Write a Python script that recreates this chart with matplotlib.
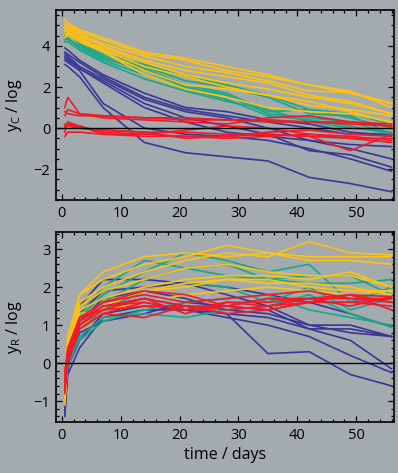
import matplotlib
matplotlib.use("Agg")
import matplotlib.pyplot as plt
from matplotlib.ticker import MultipleLocator

plt.rcParams['font.family'] = ['Open Sans', 'DejaVu Sans']

days = [0.5, 1, 3, 7, 14, 21, 28, 35, 42, 49, 56]

# top panel: y_C
yc_blue = [
    [3.9, 3.8, 3.3, 2.6, 1.7, 1.0, 0.8, 0.4, 0.2, -0.2, -0.35],
    [3.7, 3.6, 3.2, 2.5, 1.5, 0.9, 0.6, 0.3, 0.0, -0.3, -0.3],
    [3.6, 3.5, 3.0, 2.4, 1.4, 0.8, 0.5, 0.0, -0.6, -1.0, -1.5],
    [3.4, 3.3, 2.9, 2.3, 1.2, 0.5, 0.1, -0.3, -1.1, -1.3, -1.9],
    [3.3, 3.2, 2.8, 1.2, 0.0, -0.3, -0.4, -0.6, -1.0, -1.5, -2.1],
    [3.1, 3.0, 2.5, 1.0, -0.7, -1.2, -1.4, -1.6, -2.4, -2.7, -3.1],
    [3.5, 3.4, 2.9, 2.2, 1.0, 0.3, -0.2, -0.4, -0.6, -0.8, -0.9],
]
yc_teal = [
    [4.7, 4.6, 4.3, 3.6, 3.1, 2.5, 2.1, 1.6, 0.9, 0.5, 0.0],
    [4.6, 4.5, 4.2, 3.5, 3.0, 2.3, 2.0, 1.5, 0.7, 0.6, -0.3],
    [4.5, 4.6, 4.1, 3.4, 2.9, 2.1, 1.7, 0.8, 0.9, 0.7, 0.2],
    [4.4, 4.3, 4.0, 3.4, 2.8, 2.0, 1.6, 0.7, 0.5, 0.3, -0.3],
    [4.3, 4.4, 3.9, 3.3, 2.6, 1.9, 1.4, 0.6, 0.4, 0.1, -0.3],
    [4.2, 4.2, 3.8, 3.2, 2.4, 1.8, 1.3, 0.9, 0.3, 0.0, -0.2],
]
yc_yellow = [
    [5.3, 5.1, 4.8, 4.4, 3.7, 3.4, 3.0, 2.6, 2.1, 1.7, 1.2],
    [5.1, 5.0, 4.7, 4.3, 3.6, 3.3, 2.8, 2.5, 2.1, 1.8, 1.0],
    [5.0, 4.9, 4.6, 4.1, 3.5, 3.0, 2.7, 2.3, 1.8, 1.75, 1.2],
    [4.9, 4.8, 4.5, 4.0, 3.3, 2.8, 2.5, 2.2, 1.6, 1.3, 0.7],
    [4.8, 4.6, 4.4, 3.8, 3.0, 2.5, 2.0, 1.6, 1.1, 0.9, 0.6],
    [4.7, 4.7, 4.3, 3.7, 2.6, 1.9, 1.5, 1.0, 0.8, 0.7, 0.3],
    [4.6, 4.5, 4.2, 3.7, 2.8, 2.1, 1.9, 1.6, 1.3, 0.8, 0.25],
    [4.4, 4.6, 4.3, 3.9, 3.2, 2.6, 2.2, 1.9, 1.5, 1.2, 0.7],
]
yc_red = [
    [1.0, 1.5, 0.7, 0.6, 0.5, 0.5, 0.4, 0.4, 0.3, 0.3, 0.2],
    [0.8, 0.7, 0.6, 0.6, 0.5, 0.4, 0.4, 0.3, 0.3, 0.2, 0.1],
    [0.6, 0.9, 0.7, 0.5, 0.4, 0.3, 0.2, 0.5, 0.6, 0.3, 0.1],
    [0.2, 0.1, 0.0, -0.1, -0.2, -0.2, -0.3, -0.3, -0.4, -1.1, -0.3],
    [-0.4, -0.2, -0.2, -0.3, -0.3, -0.4, -0.4, -0.3, -0.4, -0.5, -0.7],
    [0.0, 0.2, 0.1, -0.2, -0.3, -0.1, 0.1, 0.0, -0.3, -0.5, -0.5],
    [-0.2, 0.3, 0.1, -0.3, -0.4, -0.4, -0.5, -0.4, -0.3, -0.4, -0.6],
    [0.1, 0.2, 0.0, -0.1, -0.2, -0.5, -0.4, -0.2, -0.1, -0.3, -0.4],
]

# bottom panel: y_R
yr_blue = [
    [-1.3, 0.0, 1.5, 2.2, 2.2, 2.1, 2.0, 1.8, 1.6, 1.3, 0.95],
    [-1.4, -0.2, 1.3, 1.9, 2.0, 2.1, 1.8, 1.5, 1.0, 0.8, 0.7],
    [-1.2, 0.0, 1.1, 1.7, 1.9, 1.7, 1.4, 1.3, 1.0, 1.0, 0.7],
    [-1.0, 0.1, 0.9, 1.5, 1.7, 1.5, 1.3, 1.2, 0.9, 0.6, -0.15],
    [-0.9, -0.1, 0.6, 1.3, 1.5, 1.4, 1.2, 1.0, 0.7, 0.2, -0.25],
    [-1.1, -0.3, 0.4, 1.2, 1.4, 1.4, 1.3, 0.25, 0.3, -0.3, -0.6],
    [-0.8, 0.0, 0.8, 1.1, 1.3, 1.6, 1.5, 1.4, 0.9, 0.9, 0.7],
]
yr_teal = [
    [-0.5, 0.4, 1.3, 2.0, 2.7, 2.5, 2.6, 2.2, 2.1, 2.1, 2.2],
    [-0.4, 0.3, 1.2, 1.8, 2.4, 2.9, 2.7, 2.4, 2.6, 1.6, 2.0],
    [-0.6, 0.2, 1.1, 1.6, 2.2, 2.5, 2.3, 2.2, 2.3, 2.3, 1.8],
    [-0.8, 0.0, 0.9, 1.4, 1.9, 2.1, 2.0, 1.6, 2.0, 1.4, 1.7],
    [-0.7, -0.1, 0.7, 1.2, 1.3, 1.2, 1.4, 1.5, 1.8, 1.3, 0.95],
    [-0.5, 0.1, 0.6, 1.1, 1.4, 1.6, 1.7, 1.8, 1.4, 1.2, 1.0],
]
yr_yellow = [
    [-0.3, 0.7, 1.8, 2.4, 2.8, 2.9, 2.8, 2.9, 2.8, 2.8, 2.8],
    [-0.5, 0.6, 1.8, 2.2, 2.6, 2.8, 3.1, 2.9, 2.7, 2.7, 2.6],
    [-0.7, 0.4, 1.6, 2.0, 2.4, 2.7, 2.9, 2.8, 3.2, 2.9, 2.85],
    [-0.8, 0.3, 1.5, 1.9, 2.2, 2.5, 2.6, 2.4, 2.3, 2.3, 2.0],
    [-1.0, 0.2, 1.4, 1.7, 2.0, 2.2, 2.3, 2.3, 2.2, 2.4, 2.0],
    [-1.1, 0.1, 0.9, 1.5, 1.9, 2.1, 2.2, 2.1, 2.1, 2.0, 1.8],
    [-0.9, 0.3, 1.2, 1.6, 1.9, 2.0, 2.2, 2.2, 2.0, 1.9, 1.9],
    [-0.6, 0.5, 1.3, 1.4, 1.6, 1.8, 1.9, 2.0, 1.9, 1.8, 1.9],
]
yr_red = [
    [-0.3, 0.4, 1.2, 1.6, 1.8, 1.6, 1.7, 1.8, 1.9, 1.7, 1.7],
    [-0.5, 0.3, 1.1, 1.5, 1.7, 1.5, 1.5, 1.7, 1.7, 1.8, 1.75],
    [-0.6, 0.2, 1.0, 1.5, 1.6, 1.4, 1.6, 1.6, 1.7, 1.7, 1.6],
    [-0.7, 0.1, 1.0, 1.4, 1.5, 1.5, 1.4, 1.5, 1.6, 1.6, 1.5],
    [-0.8, 0.0, 0.9, 1.3, 1.2, 1.5, 1.3, 1.4, 1.6, 1.8, 1.4],
    [-0.4, 0.2, 1.1, 1.6, 1.9, 1.8, 1.5, 1.7, 1.6, 1.8, 1.6],
    [-0.2, 0.3, 1.2, 1.4, 1.7, 1.3, 1.6, 1.5, 1.7, 1.5, 1.75],
    [-0.5, 0.1, 0.9, 1.3, 1.6, 1.4, 1.5, 1.4, 1.6, 1.6, 1.7],
]

c_blue, c_teal, c_yellow, c_red = '#3b3597', '#17a789', '#ffc20f', '#ee1c2b'
bg = '#a3abae'

fig = plt.figure(figsize=(3.98, 4.73), dpi=100, facecolor=bg)
ax1 = fig.add_axes([0.1407, 0.5772, 0.849, 0.4017], facecolor=bg)
ax2 = fig.add_axes([0.1407, 0.1078, 0.849, 0.4017], facecolor=bg)

def draw(ax, groups):
    for data, col in groups:
        for s in data:
            ax.plot(days, s, color=col, lw=1.2, solid_joinstyle='miter', zorder=2)
    ax.axhline(0, color='black', lw=1.0, zorder=3)
    ax.set_xlim(-1, 56.4)
    ax.xaxis.set_major_locator(MultipleLocator(10))
    ax.xaxis.set_minor_locator(MultipleLocator(2))
    ax.tick_params(which='both', direction='in', top=True, right=True,
                   labelsize=10.5, colors='black', width=0.9, pad=4)
    ax.tick_params(which='major', length=4)
    ax.tick_params(which='minor', length=2)
    for sp in ax.spines.values():
        sp.set_linewidth(1.2)
        sp.set_color('black')

draw(ax1, [(yc_blue, c_blue), (yc_teal, c_teal), (yc_yellow, c_yellow), (yc_red, c_red)])
ax1.set_ylim(-3.5, 5.75)
ax1.yaxis.set_major_locator(MultipleLocator(2))
ax1.yaxis.set_minor_locator(MultipleLocator(0.5))
ax1.set_ylabel(r'y$_\mathregular{C}$ / log', fontsize=11.5)
ax1.yaxis.set_label_coords(-0.095, 0.5)

draw(ax2, [(yr_blue, c_blue), (yr_teal, c_teal), (yr_yellow, c_yellow), (yr_red, c_red)])
ax2.set_ylim(-1.55, 3.45)
ax2.yaxis.set_major_locator(MultipleLocator(1))
ax2.yaxis.set_minor_locator(MultipleLocator(0.2))
ax2.set_ylabel(r'y$_\mathregular{R}$ / log', fontsize=11.5)
ax2.yaxis.set_label_coords(-0.095, 0.5)
ax2.set_xlabel('time / days', fontsize=11.5, labelpad=3)

fig.savefig('out.png', dpi=100, facecolor=bg)
